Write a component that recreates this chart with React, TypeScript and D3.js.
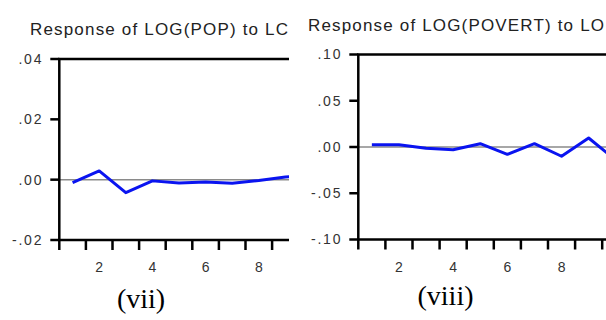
import React from 'react';
import * as d3 from 'd3';

// impulse responses, periods 1..10 (period 10 is cut off by the crop)
const periods = [1, 2, 3, 4, 5, 6, 7, 8, 9, 10];
const popResp = [-0.001, 0.0029, -0.0043, -0.0004, -0.0011, -0.0008, -0.0012, -0.0003, 0.0009, 0.0015];
const povertResp = [0.0025, 0.0025, -0.0014, -0.0029, 0.0036, -0.0079, 0.0036, -0.01, 0.0097, -0.014];

const popTicks = [-0.02, 0.0, 0.02, 0.04];
const povertTicks = [-0.1, -0.05, 0.0, 0.05, 0.1];
const xLabels = [2, 4, 6, 8];

const fmt = (v: number) => {
  const s = v.toFixed(2);
  return s.replace(/^(-?)0\./, '$1.');
};

const sans = "'Liberation Sans', Arial, sans-serif";

interface PanelProps {
  id: string;
  title: string;
  titleX: number;
  titleY: number;
  titleWidth: number;
  values: number[];
  ticks: number[];
  x0: number;
  step: number;
  yTop: number;
  yBottom: number;
  clipRight: number;
  caption: string;
  captionX: number;
  captionY: number;
}

const Panel: React.FC<PanelProps> = (p) => {
  const x = d3.scaleLinear().domain([0.5, 10.5]).range([p.x0, p.x0 + p.step * 10]);
  const y = d3.scaleLinear().domain([p.ticks[0], p.ticks[p.ticks.length - 1]]).range([p.yBottom, p.yTop]);
  const line = d3.line<number>().x((_, i) => x(periods[i])).y(d => y(d));
  const bounds = d3.range(0.5, 11, 1);
  const left = x(0.5);
  return (
    <g>
      <defs>
        <clipPath id={p.id}>
          <rect x={0} y={0} width={p.clipRight} height={320} />
        </clipPath>
      </defs>
      <text x={p.titleX} y={p.titleY} fontSize={17} textLength={p.titleWidth} lengthAdjust="spacing"
        fill="#222" fontFamily={sans}>{p.title}</text>
      <g clipPath={`url(#${p.id})`}>
        <line x1={left} x2={left + 400} y1={y(0)} y2={y(0)} stroke="#8a8a8a" strokeWidth={1.5} />
        <path d={line(p.values) || ''} fill="none" stroke="#0a14f0" strokeWidth={3} strokeLinejoin="round" />
        <rect x={left} y={p.yTop} width={400} height={p.yBottom - p.yTop} fill="none" stroke="#000" strokeWidth={2.5} />
        {p.ticks.map(t => (
          <g key={t}>
            <line x1={left - 9} x2={left} y1={y(t)} y2={y(t)} stroke="#000" strokeWidth={2.5} />
            <text x={left - 16} y={y(t)} dy="0.35em" textAnchor="end" fontSize={14} letterSpacing={1.8}
              fill="#333" fontFamily={sans}>{fmt(t)}</text>
          </g>
        ))}
        {bounds.map(b => (
          <line key={b} x1={x(b)} x2={x(b)} y1={p.yBottom} y2={p.yBottom + 10} stroke="#000" strokeWidth={2.5} />
        ))}
        {xLabels.map(l => (
          <text key={l} x={x(l)} y={267} dy="0.35em" textAnchor="middle" fontSize={14} fill="#333"
            fontFamily={sans}>{l}</text>
        ))}
      </g>
      <text x={p.captionX} y={p.captionY} textAnchor="middle" fontSize={28} fill="#000"
        fontFamily="'Liberation Serif', 'Times New Roman', serif">{p.caption}</text>
    </g>
  );
};

const App: React.FC = () => (
  <svg width={606} height={320} style={{ position: 'absolute', left: 0, top: 0, background: '#fff' }}>
    <Panel id="clipA" title="Response of LOG(POP) to LC" titleX={30} titleY={35} titleWidth={258}
      values={popResp} ticks={popTicks} x0={59.3} step={26.6} yTop={59} yBottom={240}
      clipRight={289} caption="(vii)" captionX={141} captionY={308} />
    <Panel id="clipB" title="Response of LOG(POVERT) to LO" titleX={308} titleY={30.5} titleWidth={296}
      values={povertResp} ticks={povertTicks} x0={358.3} step={27.1} yTop={54.5} yBottom={239.5}
      clipRight={606} caption="(viii)" captionX={445.5} captionY={305} />
  </svg>
);

export default App;
